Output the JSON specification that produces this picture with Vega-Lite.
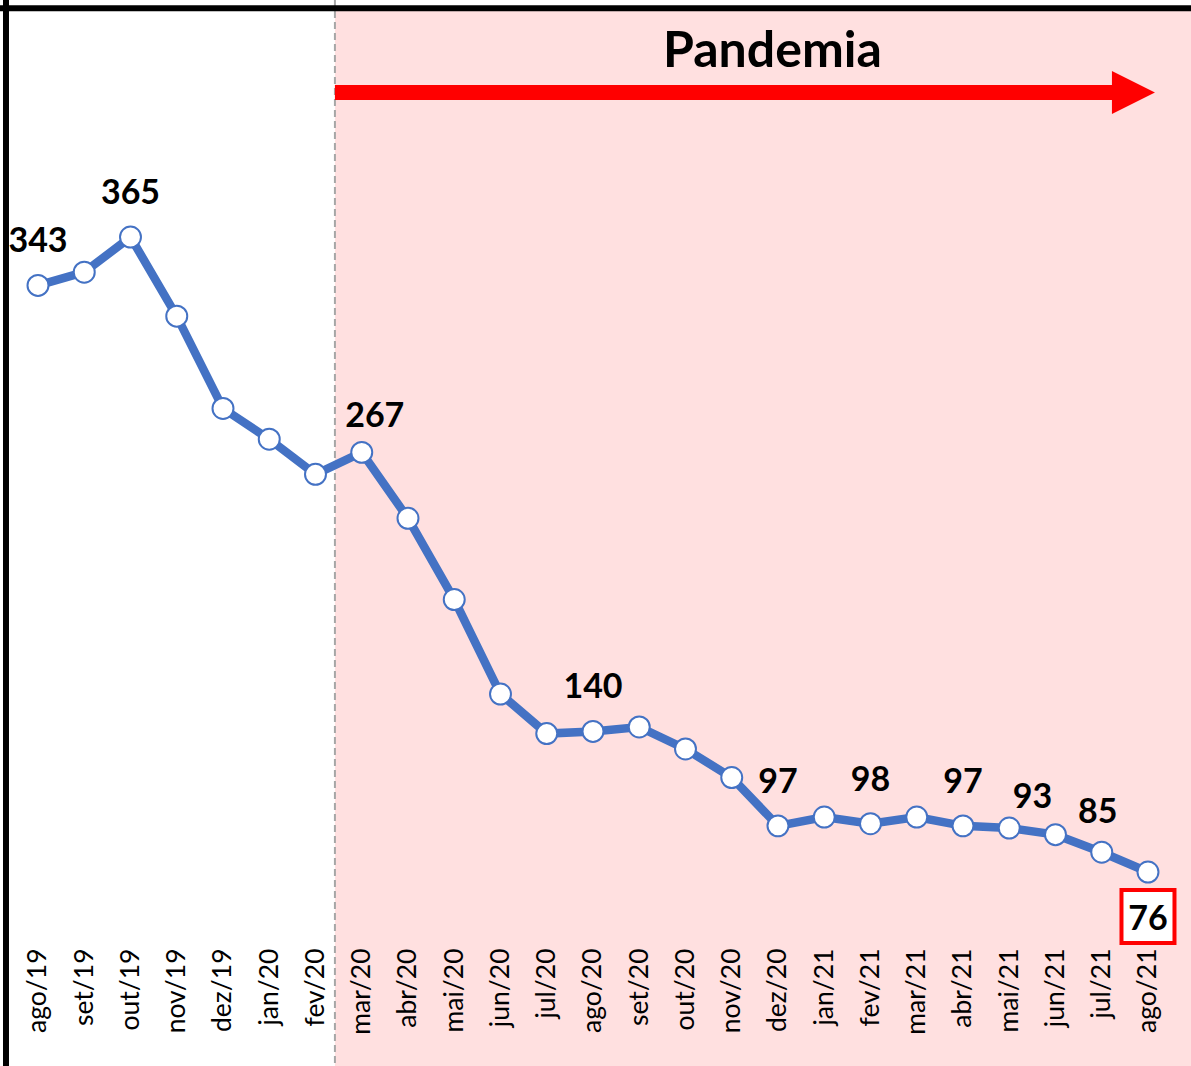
{
  "$schema": "https://vega.github.io/schema/vega-lite/v6.json",
  "width": 1191,
  "height": 1066,
  "autosize": "none",
  "padding": 0,
  "background": "white",
  "config": {"view": {"stroke": null}},
  "data": {"values": [
    {"i": 0, "m": "ago/19", "v": 343, "lab": "343"},
    {"i": 1, "m": "set/19", "v": 349, "lab": null},
    {"i": 2, "m": "out/19", "v": 365, "lab": "365"},
    {"i": 3, "m": "nov/19", "v": 329, "lab": null},
    {"i": 4, "m": "dez/19", "v": 287, "lab": null},
    {"i": 5, "m": "jan/20", "v": 273, "lab": null},
    {"i": 6, "m": "fev/20", "v": 257, "lab": null},
    {"i": 7, "m": "mar/20", "v": 267, "lab": "267"},
    {"i": 8, "m": "abr/20", "v": 237, "lab": null},
    {"i": 9, "m": "mai/20", "v": 200, "lab": null},
    {"i": 10, "m": "jun/20", "v": 157, "lab": null},
    {"i": 11, "m": "jul/20", "v": 139, "lab": null},
    {"i": 12, "m": "ago/20", "v": 140, "lab": "140"},
    {"i": 13, "m": "set/20", "v": 142, "lab": null},
    {"i": 14, "m": "out/20", "v": 132, "lab": null},
    {"i": 15, "m": "nov/20", "v": 119, "lab": null},
    {"i": 16, "m": "dez/20", "v": 97, "lab": "97"},
    {"i": 17, "m": "jan/21", "v": 101, "lab": null},
    {"i": 18, "m": "fev/21", "v": 98, "lab": "98"},
    {"i": 19, "m": "mar/21", "v": 101, "lab": null},
    {"i": 20, "m": "abr/21", "v": 97, "lab": "97"},
    {"i": 21, "m": "mai/21", "v": 96, "lab": null},
    {"i": 22, "m": "jun/21", "v": 93, "lab": "93"},
    {"i": 23, "m": "jul/21", "v": 85, "lab": "85"},
    {"i": 24, "m": "ago/21", "v": 76, "lab": "76"}
  ]},
  "layer": [
    {
      "data": {"values": [{}]},
      "mark": {"type": "rect", "color": "#ffe0e0"},
      "encoding": {
        "x": {"datum": 6.42, "type": "quantitative", "scale": {"domain": [-0.8216, 24.93], "nice": false, "zero": false}},
        "x2": {"datum": 24.93},
        "y": {"datum": -12.3, "type": "quantitative", "scale": {"domain": [-12.3, 472.9], "nice": false, "zero": false}, "axis": null},
        "y2": {"datum": 469.2}
      }
    },
    {
      "data": {"values": [{}]},
      "mark": {"type": "rule", "color": "#a6a6a6", "strokeWidth": 2, "strokeDash": [7, 4]},
      "encoding": {
        "x": {"datum": 6.42, "type": "quantitative"}
      }
    },
    {
      "data": {"values": [{}]},
      "mark": {"type": "rule", "color": "black", "strokeWidth": 6},
      "encoding": {
        "y": {"datum": 469.2, "type": "quantitative", "axis": null}
      }
    },
    {
      "data": {"values": [{}]},
      "mark": {"type": "rule", "color": "black", "strokeWidth": 6},
      "encoding": {
        "x": {"datum": -0.692, "type": "quantitative"}
      }
    },
    {
      "data": {"values": [{}]},
      "mark": {"type": "rule", "color": "#ff0000", "strokeWidth": 15, "strokeCap": "butt"},
      "encoding": {
        "x": {"datum": 6.42, "type": "quantitative"},
        "x2": {"datum": 23.25},
        "y": {"datum": 430.8, "type": "quantitative", "axis": null}
      }
    },
    {
      "data": {"values": [{}]},
      "mark": {"type": "point", "shape": "M-1,-1L1,0L-1,1Z", "size": 1849, "filled": true, "color": "#ff0000", "opacity": 1},
      "encoding": {
        "x": {"datum": 23.686, "type": "quantitative"},
        "y": {"datum": 430.8, "type": "quantitative", "axis": null}
      }
    },
    {
      "data": {"values": [{"t": "Pandemia"}]},
      "mark": {"type": "text", "font": "Lato", "fontWeight": "bold", "fontSize": 50, "align": "center", "baseline": "alphabetic", "color": "black"},
      "encoding": {
        "x": {"datum": 15.88, "type": "quantitative"},
        "y": {"datum": 442.4, "type": "quantitative", "axis": null},
        "text": {"field": "t"}
      }
    },
    {
      "mark": {"type": "line", "color": "#4472c4", "strokeWidth": 8.5},
      "encoding": {
        "x": {"field": "i", "type": "quantitative",
          "axis": {
            "values": [0,1,2,3,4,5,6,7,8,9,10,11,12,13,14,15,16,17,18,19,20,21,22,23,24],
            "labelExpr": "['ago/19','set/19','out/19','nov/19','dez/19','jan/20','fev/20','mar/20','abr/20','mai/20','jun/20','jul/20','ago/20','set/20','out/20','nov/20','dez/20','jan/21','fev/21','mar/21','abr/21','mai/21','jun/21','jul/21','ago/21'][datum.value]",
            "labelAngle": -90,
            "labelAlign": "right",
            "labelBaseline": "middle",
            "labelFont": "Lato",
            "labelFontSize": 26.5,
            "labelColor": "black",
            "labelPadding": 2,
            "labelOverlap": false,
            "labelFlush": false,
            "domain": false,
            "ticks": false,
            "tickSize": 0,
            "grid": false,
            "title": null,
            "offset": -120,
            "zindex": 2
          }
        },
        "y": {"field": "v", "type": "quantitative", "axis": null}
      }
    },
    {
      "mark": {"type": "point", "filled": true, "fill": "white", "stroke": "#4472c4", "strokeWidth": 2, "size": 440, "opacity": 1},
      "encoding": {
        "x": {"field": "i", "type": "quantitative"},
        "y": {"field": "v", "type": "quantitative", "axis": null}
      }
    },
    {
      "transform": [{"filter": "indexof(['ago/19','out/19','ago/20','dez/20','fev/21','abr/21'], datum.m) >= 0"}],
      "mark": {"type": "text", "font": "Lato", "fontWeight": "bold", "fontSize": 34, "align": "center", "baseline": "alphabetic", "dy": -33, "color": "black"},
      "encoding": {
        "x": {"field": "i", "type": "quantitative"},
        "y": {"field": "v", "type": "quantitative", "axis": null},
        "text": {"field": "lab"}
      }
    },
    {
      "transform": [{"filter": "datum.m == 'mar/20'"}],
      "mark": {"type": "text", "font": "Lato", "fontWeight": "bold", "fontSize": 34, "align": "center", "baseline": "alphabetic", "dx": 13, "dy": -25, "color": "black"},
      "encoding": {
        "x": {"field": "i", "type": "quantitative"},
        "y": {"field": "v", "type": "quantitative", "axis": null},
        "text": {"field": "lab"}
      }
    },
    {
      "transform": [{"filter": "datum.m == 'jun/21'"}],
      "mark": {"type": "text", "font": "Lato", "fontWeight": "bold", "fontSize": 34, "align": "center", "baseline": "alphabetic", "dx": -23, "dy": -27, "color": "black"},
      "encoding": {
        "x": {"field": "i", "type": "quantitative"},
        "y": {"field": "v", "type": "quantitative", "axis": null},
        "text": {"field": "lab"}
      }
    },
    {
      "transform": [{"filter": "datum.m == 'jul/21'"}],
      "mark": {"type": "text", "font": "Lato", "fontWeight": "bold", "fontSize": 34, "align": "center", "baseline": "alphabetic", "dx": -4, "dy": -29, "color": "black"},
      "encoding": {
        "x": {"field": "i", "type": "quantitative"},
        "y": {"field": "v", "type": "quantitative", "axis": null},
        "text": {"field": "lab"}
      }
    },
    {
      "transform": [{"filter": "datum.m == 'ago/21'"}],
      "mark": {"type": "point", "shape": "square", "size": 2809, "filled": true, "fill": "white", "stroke": "#ff0000", "strokeWidth": 4, "opacity": 1, "yOffset": 44.5},
      "encoding": {
        "x": {"field": "i", "type": "quantitative"},
        "y": {"field": "v", "type": "quantitative", "axis": null}
      }
    },
    {
      "transform": [{"filter": "datum.m == 'ago/21'"}],
      "mark": {"type": "text", "font": "Lato", "fontWeight": "bold", "fontSize": 34, "align": "center", "baseline": "alphabetic", "dy": 58, "color": "black"},
      "encoding": {
        "x": {"field": "i", "type": "quantitative"},
        "y": {"field": "v", "type": "quantitative", "axis": null},
        "text": {"field": "lab"}
      }
    }
  ]
}
